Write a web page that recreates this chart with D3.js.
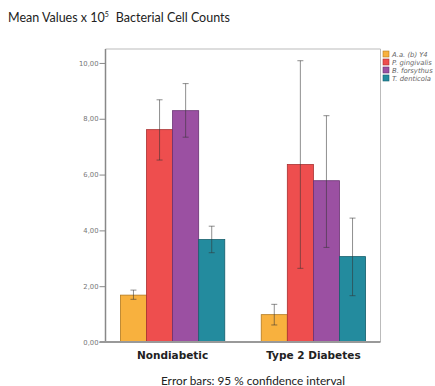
<!DOCTYPE html>
<html><head><meta charset="utf-8">
<script src="https://cdn.jsdelivr.net/npm/d3@7"></script>
<style>body{margin:0;background:#fff}svg{display:block}</style>
</head><body>
<script>
const categories = ["Nondiabetic", "Type 2 Diabetes"];
const series = ["A.a. (b) Y4", "P. gingivalis", "B. forsythus", "T. denticola"];
const colors = ["#F8B13E", "#EE4E4E", "#9B50A2", "#238B9E"];
const strokes = ["#b27a20", "#a83030", "#6a3272", "#155e6c"];
// mean values per category (rows) and series (cols)
const means = [[1.68, 7.61, 8.29, 3.67], [0.98, 6.36, 5.78, 3.06]];
const ciLow = [[1.53, 6.52, 7.34, 3.20], [0.61, 2.64, 3.39, 1.66]];
const ciHigh = [[1.86, 8.68, 9.26, 4.15], [1.35, 10.08, 8.11, 4.44]];
const yTicks = [0, 2, 4, 6, 8, 10];

const W = 435, H = 386;
const svg = d3.select("body").append("svg").attr("width", W).attr("height", H);
const mLeft = 105.5, mRight = 380.5, mTop = 49, mBottom = 342;

const x0 = d3.scaleBand().domain(categories).range([mLeft, mRight]).paddingInner(0.259).paddingOuter(0.106);
const x1 = d3.scaleBand().domain(series).range([0, x0.bandwidth()]).padding(0);
const y = d3.scaleLinear().domain([0, 10.5]).range([mBottom, mTop]);

// frame
svg.append("path").attr("d", `M${mLeft},${mTop}H${mRight}V${mBottom}`).attr("fill", "none").attr("stroke", "#bbb").attr("stroke-width", 1);

// bars
const g = svg.append("g");
categories.forEach((c, ci) => {
  series.forEach((s, si) => {
    g.append("rect")
      .attr("x", x0(c) + x1(s)).attr("y", y(means[ci][si]))
      .attr("width", x1.bandwidth()).attr("height", y(0) - y(means[ci][si]))
      .attr("fill", colors[si]).attr("stroke", strokes[si]).attr("stroke-width", 0.8);
  });
});
// error bars
categories.forEach((c, ci) => {
  series.forEach((s, si) => {
    const cx = x0(c) + x1(s) + x1.bandwidth() / 2;
    const eg = svg.append("g").attr("stroke", "#333").attr("stroke-opacity", 0.55).attr("stroke-width", 1);
    eg.append("line").attr("x1", cx).attr("x2", cx).attr("y1", y(ciLow[ci][si])).attr("y2", y(ciHigh[ci][si]));
    [ciLow[ci][si], ciHigh[ci][si]].forEach(v => {
      eg.append("line").attr("x1", cx - 3).attr("x2", cx + 3).attr("y1", y(v)).attr("y2", y(v));
    });
  });
});

// y axis
const yAxis = svg.append("g").attr("transform", `translate(${mLeft},0)`)
  .call(d3.axisLeft(y).tickValues(yTicks).tickSize(6).tickPadding(1).tickFormat(d => d3.format(".2f")(d).replace(".", ",")));
yAxis.select(".domain").attr("stroke", "#888").attr("stroke-width", 1.5).attr("d", `M0,${mTop}V${mBottom}`);
yAxis.selectAll(".tick line").attr("stroke", "#888");
yAxis.selectAll(".tick text").attr("fill", "#777").attr("font-size", 6.8).attr("font-family", "DejaVu Sans");

// x axis
const xAxis = svg.append("g").attr("transform", `translate(0,${mBottom})`)
  .call(d3.axisBottom(x0).tickSize(0).tickPadding(8));
xAxis.select(".domain").attr("stroke", "#999").attr("stroke-width", 2).attr("d", `M${mLeft - 6},0H${mRight}`);
xAxis.selectAll(".tick text").attr("fill", "#222").attr("font-size", 10.5).attr("font-weight", "bold").attr("font-family", "DejaVu Sans").attr("dy", "0.9em");

// legend
const lg = svg.append("g").attr("transform", "translate(383,51)");
series.forEach((s, i) => {
  lg.append("rect").attr("x", 0).attr("y", i * 8).attr("width", 6).attr("height", 6)
    .attr("fill", colors[i]).attr("stroke", strokes[i]).attr("stroke-width", 0.6);
  lg.append("text").attr("x", 9).attr("y", i * 8 + 5.5).text(s)
    .attr("font-size", 6.8).attr("font-style", "italic").attr("fill", "#666").attr("font-family", "DejaVu Sans");
});

// title
const t = svg.append("text").attr("x", 8).attr("y", 22).attr("font-family", "Lato").attr("font-size", 12.5).attr("fill", "#222");
t.append("tspan").text("Mean Values x 10");
t.append("tspan").text("5").attr("font-size", 7).attr("dy", -5);
t.append("tspan").text("Bacterial Cell Counts").attr("dy", 5).attr("dx", 7);

// footnote
svg.append("text").attr("x", 253).attr("y", 384.5).attr("text-anchor", "middle")
  .attr("font-family", "Lato").attr("font-size", 11.8).attr("fill", "#222").text("Error bars: 95 % confidence interval");
</script>
</body></html>
